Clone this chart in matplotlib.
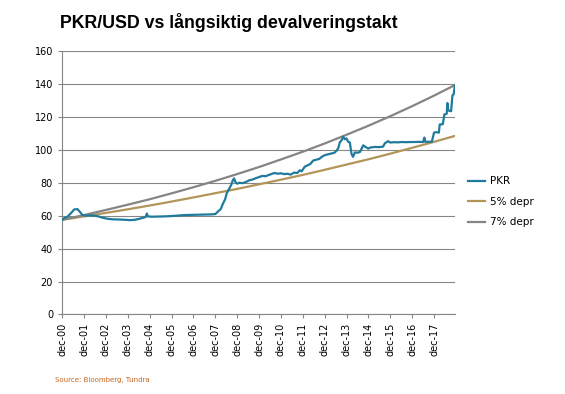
import matplotlib
matplotlib.use("Agg")
import matplotlib.pyplot as plt

# years since dec-2000 and PKR per USD
pkr_t = [0.00, 0.10, 0.25, 0.40, 0.55, 0.70, 0.80, 0.92, 1.10, 1.30, 1.50, 1.65, 1.85,
         2.05, 2.30, 2.60, 2.90, 3.10, 3.30, 3.50, 3.70, 3.82, 3.87, 3.92, 4.10, 4.40,
         4.70, 5.00, 5.30, 5.60, 5.90, 6.20, 6.50, 6.80, 7.00, 7.12, 7.25, 7.34, 7.45,
         7.52, 7.62, 7.72, 7.80, 7.86, 7.92, 8.00, 8.10, 8.25, 8.40, 8.55, 8.70, 8.85,
         9.00, 9.15, 9.30, 9.45, 9.60, 9.72, 9.85, 10.00, 10.15, 10.30, 10.45, 10.60,
         10.75, 10.86, 10.95, 11.09, 11.20, 11.35, 11.47, 11.60, 11.75, 11.86, 12.00,
         12.15, 12.30, 12.45, 12.54, 12.62, 12.69, 12.78, 12.84, 12.92, 13.00, 13.07,
         13.15, 13.23, 13.30, 13.38, 13.50, 13.61, 13.70, 13.76, 13.85, 13.99, 14.10,
         14.30, 14.50, 14.67, 14.75, 14.90, 15.00, 15.20, 15.35, 15.50, 15.70, 15.90,
         16.10, 16.30, 16.50, 16.56, 16.60, 16.90, 17.00, 17.10, 17.22, 17.26, 17.40,
         17.47, 17.58, 17.61, 17.65, 17.78, 17.84, 17.90, 17.95]
pkr = [57.5, 58.5, 59.5, 61.5, 63.8, 64.0, 62.5, 60.5, 60.0, 60.2, 60.0, 59.6, 58.8,
       58.2, 57.8, 57.7, 57.5, 57.3, 57.5, 58.0, 58.8, 59.2, 61.3, 59.6, 59.4, 59.5,
       59.6, 59.8, 60.1, 60.4, 60.5, 60.6, 60.7, 60.8, 61.0, 62.5, 64.0, 67.0, 70.0,
       73.5, 76.0, 78.5, 81.5, 82.7, 80.5, 79.5, 80.0, 79.8, 80.5, 81.5, 82.0, 82.8,
       83.5, 84.2, 84.0, 84.8, 85.5, 86.0, 85.5, 85.8, 85.3, 85.5, 85.0, 86.2,
       86.0, 87.6, 87.0, 89.8, 90.5, 91.5, 93.5, 94.0, 94.5, 95.7, 96.8,
       97.3, 97.8, 98.3, 99.5, 101.0, 104.5, 106.0, 108.0, 106.5, 107.0, 105.0,
       104.5, 97.5, 95.8, 98.5, 98.3, 98.7, 101.0, 102.8, 102.0, 100.8, 101.5,
       101.8, 101.7, 102.0, 104.0, 105.3, 104.5, 104.7, 104.6, 104.8, 104.7, 104.8,
       104.8, 104.9, 104.8, 107.5, 104.9, 105.0, 110.5, 110.8, 110.5, 115.5, 115.6,
       121.5, 122.0, 128.5, 124.0, 123.5, 133.0, 134.0, 139.0]

# trend lines, read at each december and at the end of the chart
trend_t = [0, 1, 2, 3, 4, 5, 6, 7, 8, 9, 10, 11, 12, 13, 14, 15, 16, 17, 17.95]
depr5 = [57.5, 59.6, 61.7, 63.9, 66.2, 68.6, 71.1, 73.7, 76.3, 79.1, 81.9, 84.8,
         87.9, 91.1, 94.3, 97.7, 101.3, 104.9, 108.5]
depr7 = [57.5, 60.4, 63.5, 66.7, 70.0, 73.6, 77.3, 81.2, 85.3, 89.6, 94.2, 98.9,
         103.9, 109.2, 114.7, 120.5, 126.6, 133.0, 139.4]

xlabels = ["dec-%02d" % y for y in range(0, 18)]

fig = plt.figure(figsize=(5.65, 3.94), dpi=100)
ax = fig.add_axes([0.110, 0.202, 0.695, 0.668])

ax.plot(trend_t, depr5, color="#B39459", lw=1.6, label="5% depr", zorder=3)
ax.plot(trend_t, depr7, color="#858585", lw=1.6, label="7% depr", zorder=3)
ax.plot(pkr_t, pkr, color="#1F7A9C", lw=1.6, label="PKR", zorder=4)

ax.set_xlim(0, 17.95)
ax.set_ylim(0, 160)
ax.set_yticks(range(0, 161, 20))
ax.set_xticks(range(0, 18))
ax.set_xticklabels(xlabels, rotation=90)
ax.tick_params(axis="both", labelsize=7, color="#868686", length=3, width=0.8)
ax.tick_params(axis="x", pad=3)
ax.grid(axis="y", color="#868686", lw=0.8)
ax.set_axisbelow(True)
for s in ["top", "right"]:
    ax.spines[s].set_visible(False)
for s in ["left", "bottom"]:
    ax.spines[s].set_color("#868686")
    ax.spines[s].set_linewidth(0.8)

h, l = ax.get_legend_handles_labels()
order = [2, 0, 1]
ax.legend([h[i] for i in order], [l[i] for i in order], loc="upper left",
          bbox_to_anchor=(1.01, 0.56), frameon=False, fontsize=7.5,
          handlelength=1.6, handletextpad=0.5, labelspacing=1.0)

fig.text(0.106, 0.942, "PKR/USD vs långsiktig devalveringstakt", fontsize=12.8,
         fontweight="bold", family="Liberation Sans", va="center")
fig.text(0.097, 0.030, "Source: Bloomberg, Tundra", fontsize=5, color="#C8641E")

fig.savefig("out.png", dpi=100)
